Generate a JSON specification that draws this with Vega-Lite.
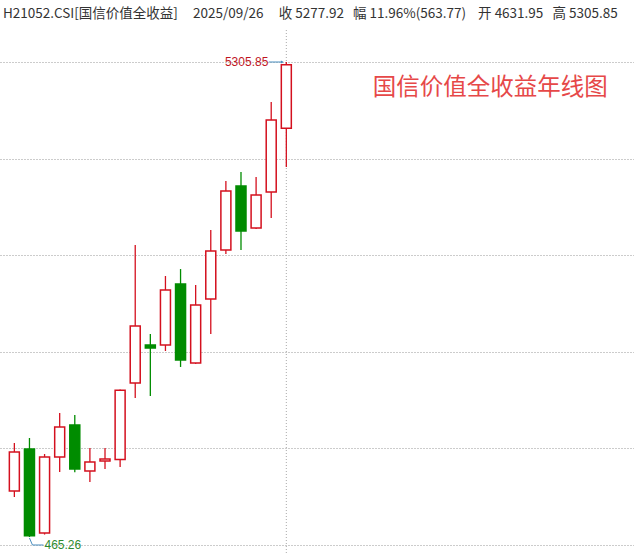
{
  "$schema": "https://vega.github.io/schema/vega-lite/v6.json",
  "width": 634,
  "height": 524,
  "autosize": {"type": "none"},
  "padding": {"top": 30, "left": 0, "right": 0, "bottom": 0},
  "background": "white",
  "config": {"view": {"stroke": null}},
  "title": {
    "text": "H21052.CSI[国信价值全收益]\u00a0\u00a0\u00a0\u00a0\u00a02025/09/26\u00a0\u00a0\u00a0\u00a0\u00a0收\u00a05277.92\u00a0\u00a0\u00a0幅\u00a011.96%(563.77)\u00a0\u00a0\u00a0\u00a0开\u00a04631.95\u00a0\u00a0\u00a0高\u00a05305.85",
    "anchor": "start",
    "orient": "top",
    "font": "Noto Sans CJK SC",
    "fontSize": 13.5,
    "fontWeight": "normal",
    "color": "#333333",
    "offset": 9,
    "dx": 3
  },
  "data": {
    "values": [
      {"year": 2007, "open": 934, "high": 1423, "low": 873, "close": 1331},
      {"year": 2008, "open": 1362, "high": 1474, "low": 465.26, "close": 478},
      {"year": 2009, "open": 505, "high": 1311, "low": 490, "close": 1281},
      {"year": 2010, "open": 1281, "high": 1729, "low": 1128, "close": 1586},
      {"year": 2011, "open": 1607, "high": 1709, "low": 1125, "close": 1158},
      {"year": 2012, "open": 1138, "high": 1372, "low": 1026, "close": 1230},
      {"year": 2013, "open": 1240, "high": 1372, "low": 1158, "close": 1260},
      {"year": 2014, "open": 1255, "high": 1968, "low": 1179, "close": 1960},
      {"year": 2015, "open": 2035, "high": 3441, "low": 1882, "close": 2616},
      {"year": 2016, "open": 2422, "high": 2534, "low": 1902, "close": 2391},
      {"year": 2017, "open": 2422, "high": 3125, "low": 2361, "close": 2982},
      {"year": 2018, "open": 3044, "high": 3196, "low": 2198, "close": 2269},
      {"year": 2019, "open": 2238, "high": 3033, "low": 2228, "close": 2830},
      {"year": 2020, "open": 2891, "high": 3594, "low": 2534, "close": 3380},
      {"year": 2021, "open": 3390, "high": 4093, "low": 3349, "close": 3991},
      {"year": 2022, "open": 4042, "high": 4185, "low": 3390, "close": 3584},
      {"year": 2023, "open": 3614, "high": 4134, "low": 3604, "close": 3951},
      {"year": 2024, "open": 3981, "high": 4898, "low": 3716, "close": 4714.15},
      {"year": 2025, "open": 4631.95, "high": 5305.85, "low": 4236, "close": 5277.92}
    ]
  },
  "layer": [
    {
      "mark": {"type": "rule", "strokeDash": [1, 2], "color": "#aaaaaa", "strokeWidth": 1},
      "transform": [{"filter": "datum.year == 2025"}],
      "encoding": {
        "x": {"field": "year", "type": "quantitative", "scale": {"domain": [2006.381, 2047.68], "nice": false, "zero": false}, "axis": null}
      }
    },
    {
      "mark": {"type": "rule", "strokeWidth": 1.3},
      "encoding": {
        "x": {"field": "year", "type": "quantitative", "scale": {"domain": [2006.381, 2047.68], "nice": false, "zero": false}, "axis": null},
        "y": {
          "field": "low", "type": "quantitative",
          "scale": {"domain": [291.97, 5632.1], "nice": false, "zero": false},
          "axis": {"title": null, "labels": false, "ticks": false, "domain": false, "grid": true,
            "values": [383.7, 1368.2, 2352.6, 3337.1, 4321.6, 5305.85],
            "gridDash": [1, 2], "gridColor": "#999999", "gridWidth": 1, "gridOpacity": 1}
        },
        "y2": {"field": "high"},
        "color": {"condition": {"test": "datum.close >= datum.open", "value": "#d4101e"}, "value": "#008c00"}
      }
    },
    {
      "mark": {"type": "bar", "width": 10, "strokeWidth": 1.5},
      "encoding": {
        "x": {"field": "year", "type": "quantitative"},
        "y": {"field": "open", "type": "quantitative"},
        "y2": {"field": "close"},
        "fill": {"condition": {"test": "datum.close >= datum.open", "value": "#ffffff"}, "value": "#008c00"},
        "stroke": {"condition": {"test": "datum.close >= datum.open", "value": "#d4101e"}, "value": "#008c00"}
      }
    },
    {
      "transform": [{"filter": "datum.year == 2025"}],
      "mark": {"type": "text", "align": "right", "baseline": "middle", "dx": -18, "font": "Liberation Sans", "fontSize": 12, "color": "#c0141e"},
      "encoding": {
        "x": {"field": "year", "type": "quantitative"},
        "y": {"field": "high", "type": "quantitative"},
        "text": {"field": "high", "type": "quantitative", "format": ".2f"}
      }
    },
    {
      "transform": [{"filter": "datum.year == 2025"}],
      "mark": {"type": "rule", "xOffset": -17.5, "x2Offset": -4, "color": "#4a8fc0", "strokeWidth": 1},
      "encoding": {
        "x": {"field": "year", "type": "quantitative"},
        "x2": {"field": "year"},
        "y": {"field": "high", "type": "quantitative"}
      }
    },
    {
      "transform": [{"filter": "datum.year == 2025"}],
      "mark": {"type": "point", "shape": "triangle-right", "filled": true, "size": 10, "xOffset": -4, "color": "#4a8fc0", "opacity": 1},
      "encoding": {
        "x": {"field": "year", "type": "quantitative"},
        "y": {"field": "high", "type": "quantitative"}
      }
    },
    {
      "transform": [{"filter": "datum.year == 2008"}],
      "mark": {"type": "text", "align": "left", "baseline": "middle", "dx": 15, "dy": 8, "font": "Liberation Sans", "fontSize": 12, "color": "#2e8b2e"},
      "encoding": {
        "x": {"field": "year", "type": "quantitative"},
        "y": {"field": "low", "type": "quantitative"},
        "text": {"field": "low", "type": "quantitative", "format": ".2f"}
      }
    },
    {
      "transform": [{"filter": "datum.year == 2008"}],
      "mark": {"type": "rule", "xOffset": 3, "x2Offset": 14, "yOffset": 8, "y2Offset": 8, "color": "#4a8fc0", "strokeWidth": 1},
      "encoding": {
        "x": {"field": "year", "type": "quantitative"},
        "x2": {"field": "year"},
        "y": {"field": "low", "type": "quantitative"},
        "y2": {"field": "low"}
      }
    },
    {
      "transform": [{"filter": "datum.year == 2008"}],
      "mark": {"type": "rule", "xOffset": 0, "x2Offset": 3, "yOffset": 1, "y2Offset": 8, "color": "#4a8fc0", "strokeWidth": 1},
      "encoding": {
        "x": {"field": "year", "type": "quantitative"},
        "x2": {"field": "year"},
        "y": {"field": "low", "type": "quantitative"},
        "y2": {"field": "low"}
      }
    },
    {
      "data": {"values": [{"note": "国信价值全收益年线图"}]},
      "mark": {"type": "text", "align": "center", "baseline": "middle", "font": "Noto Sans CJK SC", "fontSize": 23.5, "color": "#e64848"},
      "encoding": {
        "x": {"datum": 2038.5, "type": "quantitative"},
        "y": {"datum": 5041, "type": "quantitative"},
        "text": {"field": "note"}
      }
    }
  ]
}
